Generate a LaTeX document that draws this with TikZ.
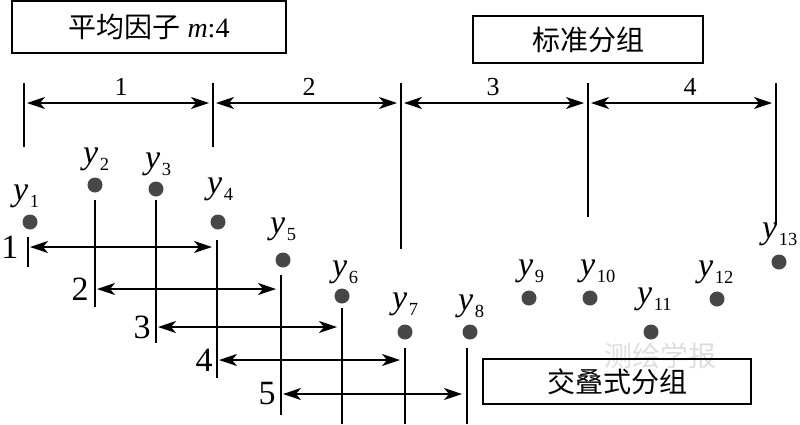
\documentclass[tikz,border=0pt]{standalone}
\usepackage{fontspec}
\setmainfont{Liberation Serif}
\newfontfamily\cjk{Noto Sans CJK SC}
\usetikzlibrary{arrows.meta,calc}
\newcommand{\ysub}[1]{{\itshape y}\kern1.5pt\raisebox{-7pt}{\fontsize{18.5}{19}\selectfont #1}}
\begin{document}
\begin{tikzpicture}[x=1pt,y=-1pt,
  ln/.style={line width=1.5pt},
  dimarrow/.style={ln,{Stealth[length=18pt,width=12pt,inset=5pt]}-{Stealth[length=18pt,width=12pt,inset=5pt]},shorten <=3pt,shorten >=4pt},
  dot/.style={circle,fill=black!72,inner sep=0pt,minimum size=15pt},
  ylab/.style={inner sep=0pt,anchor=base west,font=\fontsize{34}{36}\selectfont},
  boxt/.style={draw,ln,inner sep=0pt,font=\fontsize{28}{30}\selectfont},
  toplab/.style={inner sep=0pt,font=\fontsize{26}{28}\selectfont},
  rowlab/.style={inner sep=0pt,font=\fontsize{34}{36}\selectfont},
  wm/.style={inner sep=0pt,text=black!13,font=\fontsize{28}{28}\selectfont\cjk},
]
\useasboundingbox (0,0) rectangle (800,424);

% watermark
\node[wm] (wmark) at (660,356) {测绘学报};

% boxes
\node[boxt,minimum width=274pt,minimum height=52pt] (b1) at (149,27) {{\cjk 平均因子} \textit{m}:4};
\node[boxt,minimum width=230pt,minimum height=47pt] (b2) at (588,39.5) {\cjk 标准分组};
\node[boxt,minimum width=268pt,minimum height=45pt] (b3) at (617,381.5) {\cjk 交叠式分组};

% top axis ticks
\coordinate (t0a) at (24,83);  \coordinate (t0b) at (24,147);
\coordinate (t1a) at (213,83); \coordinate (t1b) at (213,147);
\coordinate (t2a) at (401,83); \coordinate (t2b) at (401,249);
\coordinate (t3a) at (588,83); \coordinate (t3b) at (588,217);
\coordinate (t4a) at (776,83); \coordinate (t4b) at (776,223);
\foreach \i in {0,...,4} \draw[ln] (t\i a) -- (t\i b);
\coordinate (m0) at (24,103); \coordinate (m1) at (213,103);
\coordinate (m2) at (401,103); \coordinate (m3) at (588,103);
\coordinate (m4) at (776,103);
\draw[dimarrow] (m0) -- (m1);
\draw[dimarrow] (m1) -- (m2);
\draw[dimarrow] (m2) -- (m3);
\draw[dimarrow] (m3) -- (m4);
\node[toplab] (n1) at (121,87) {1};
\node[toplab] (n2) at (309,87) {2};
\node[toplab] (n3) at (493,87) {3};
\node[toplab] (n4) at (690,87) {4};

% dots
\node[dot] (d1) at (30,222) {};
\node[dot] (d2) at (95,185) {};
\node[dot] (d3) at (156,189) {};
\node[dot] (d4) at (218,222) {};
\node[dot] (d5) at (283,260) {};
\node[dot] (d6) at (342,296) {};
\node[dot] (d7) at (405,332) {};
\node[dot] (d8) at (470,332) {};
\node[dot] (d9) at (529,298) {};
\node[dot] (d10) at (590,298) {};
\node[dot] (d11) at (651,332) {};
\node[dot] (d12) at (717,299) {};
\node[dot] (d13) at (779,262) {};

% labels
\node[ylab] (l1) at (13,200) {\ysub{1}};
\node[ylab] (l2) at (83,163) {\ysub{2}};
\node[ylab] (l3) at (145,168) {\ysub{3}};
\node[ylab] (l4) at (207,193) {\ysub{4}};
\node[ylab] (l5) at (270,233) {\ysub{5}};
\node[ylab] (l6) at (332,276) {\ysub{6}};
\node[ylab] (l7) at (392,308) {\ysub{7}};
\node[ylab] (l8) at (458,310) {\ysub{8}};
\node[ylab] (l9) at (518,275) {\ysub{9}};
\node[ylab] (l10) at (580,275) {\ysub{10}};
\node[ylab] (l11) at (637,303) {\ysub{11}};
\node[ylab] (l12) at (698,276) {\ysub{12}};
\node[ylab] (l13) at (762,238) {\ysub{13}};

% vertical lines of overlapping groups
\coordinate (v1a) at (28,237);  \coordinate (v1b) at (28,267);
\coordinate (v2a) at (95,200);  \coordinate (v2b) at (95,307);
\coordinate (v3a) at (156,200); \coordinate (v3b) at (156,343);
\coordinate (v4a) at (217,240); \coordinate (v4b) at (217,378);
\coordinate (v5a) at (281,275); \coordinate (v5b) at (281,415);
\coordinate (v6a) at (342,308); \coordinate (v6b) at (342,424);
\coordinate (v7a) at (405,348); \coordinate (v7b) at (405,424);
\coordinate (v8a) at (467,348); \coordinate (v8b) at (467,424);
\foreach \i in {1,...,8} \draw[ln] (v\i a) -- (v\i b);

% rows
\coordinate (r1a) at (28,247);  \coordinate (r1b) at (217,247);
\coordinate (r2a) at (95,289);  \coordinate (r2b) at (281,289);
\coordinate (r3a) at (156,327); \coordinate (r3b) at (342,327);
\coordinate (r4a) at (217,360); \coordinate (r4b) at (405,360);
\coordinate (r5a) at (281,394); \coordinate (r5b) at (467,394);
\foreach \i in {1,...,5} \draw[dimarrow,shorten <=2pt,shorten >=5pt] (r\i a) -- (r\i b);
\node[rowlab] (k1) at (10,247) {1};
\node[rowlab] (k2) at (80,289) {2};
\node[rowlab] (k3) at (142,327) {3};
\node[rowlab] (k4) at (204,360) {4};
\node[rowlab] (k5) at (267,394) {5};
\end{tikzpicture}
\end{document}
